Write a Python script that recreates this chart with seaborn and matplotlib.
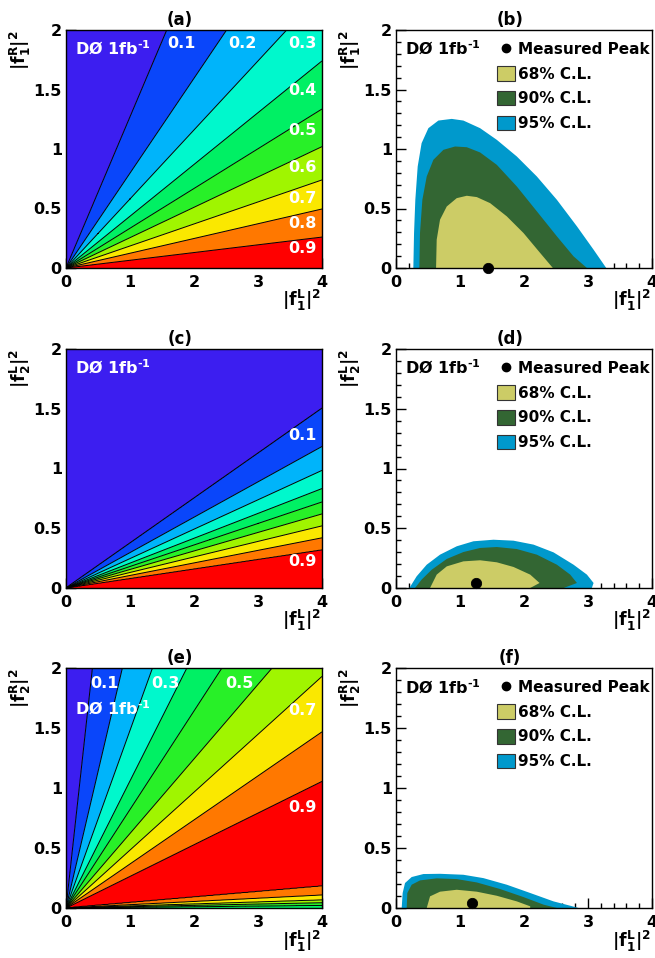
import numpy as np
import matplotlib
matplotlib.use("Agg")
import matplotlib.pyplot as plt
from matplotlib.patches import Patch
from matplotlib.lines import Line2D
from matplotlib.ticker import MultipleLocator, FixedLocator, FixedFormatter
import seaborn as sns
import pandas as pd

sns.set_style("white")
plt.rcParams.update({
    "font.family": ["DejaVu Sans"],
    "font.weight": "bold",
    "mathtext.fontset": "custom",
    "mathtext.rm": "DejaVu Sans:bold",
    "mathtext.it": "DejaVu Sans:bold",
    "mathtext.bf": "DejaVu Sans:bold",
    "mathtext.sf": "DejaVu Sans:bold",
    "mathtext.default": "bf",
    "axes.edgecolor": "black",
    "axes.linewidth": 1.0,
    "text.color": "black",
    "xtick.color": "black",
    "ytick.color": "black",
    "xtick.labelcolor": "black",
    "ytick.labelcolor": "black",
    "axes.labelcolor": "black",
})

# ---------------- data ----------------
panel_tags = ["(a)", "(b)", "(c)", "(d)", "(e)", "(f)"]
y_labels = [r"$|f^{R}_{1}|^{2}$", r"$|f^{R}_{1}|^{2}$",
            r"$|f^{L}_{2}|^{2}$", r"$|f^{L}_{2}|^{2}$",
            r"$|f^{R}_{2}|^{2}$", r"$|f^{R}_{2}|^{2}$"]
x_label = r"$|f^{L}_{1}|^{2}$"
x_ticks = [0, 1, 2, 3, 4]
y_ticks = [0, 0.5, 1, 1.5, 2]
y_tick_labels = ["0", "0.5", "1", "1.5", "2"]
lumi_text = "DØ 1fb$^{\u2010 1}$"

band_edges = [0.0, 0.1, 0.2, 0.3, 0.4, 0.5, 0.6, 0.7, 0.8, 0.9, 1.0]
band_colors = ["#3c1ef0", "#0a46fa", "#00b4fa", "#00f8cc", "#00f064",
               "#28f028", "#a0f500", "#fae800", "#ff7800", "#ff0000"]
line_levels = [0.1, 0.2, 0.3, 0.4, 0.5, 0.6, 0.7, 0.8, 0.9]

# (a) slopes (y/x) of the iso-fraction lines, levels 0.1 ... 0.9
a_slopes = [1.27, 0.797, 0.58, 0.435, 0.334, 0.255, 0.185, 0.124, 0.065]
a_edge_vals = [1.0, 0.0]          # value along x axis, along y axis
# (c)
c_slopes = [0.376, 0.296, 0.246, 0.208, 0.180, 0.155, 0.130, 0.105, 0.080]
c_edge_vals = [1.0, 0.0]
# (e) upper fan (0.1 ... 0.9), peak, lower fan (0.9 ... 0.5)
e_up_slopes = [4.85, 2.27, 1.48, 1.059, 0.821, 0.621, 0.4825, 0.367, 0.264]
e_peak_slope = [0.11]
e_peak_level = [0.95]
e_low_levels = [0.9, 0.8, 0.7, 0.6, 0.5]
e_low_slopes = [0.0458, 0.027, 0.0168, 0.011, 0.0055]
e_edge_vals = [0.45, 0.0]

# labels inside left panels: text, x, y (data)
a_lab_text = ["0.1", "0.2", "0.3", "0.4", "0.5", "0.6", "0.7", "0.8", "0.9"]
a_lab_x = [2.02, 2.98, 3.92, 3.92, 3.92, 3.92, 3.92, 3.92, 3.92]
a_lab_y = [1.85, 1.85, 1.85, 1.455, 1.12, 0.81, 0.545, 0.336, 0.126]
c_lab_text = ["0.1", "0.9"]
c_lab_x = [3.92, 3.92]
c_lab_y = [1.24, 0.18]
e_lab_text = ["0.1", "0.3", "0.5", "0.7", "0.9"]
e_lab_x = [0.82, 1.78, 2.93, 3.92, 3.92]
e_lab_y = [1.83, 1.83, 1.83, 1.607, 0.803]

# confidence regions (boundary points)
cl_names = ["68% C.L.", "90% C.L.", "95% C.L."]
cl_colors = ["#cccc66", "#336633", "#0099cc"]

b95_x = [0.271, 0.282, 0.302, 0.339, 0.40, 0.506, 0.662, 0.871, 1.053, 1.314,
         1.575, 1.888, 2.201, 2.514, 2.827, 3.087, 3.285]
b95_y = [0.0, 0.294, 0.573, 0.853, 1.049, 1.175, 1.239, 1.253, 1.239, 1.175,
         1.077, 0.937, 0.769, 0.573, 0.350, 0.154, 0.0]
b90_x = [0.365, 0.375, 0.412, 0.48, 0.584, 0.741, 0.923, 1.106, 1.314, 1.575,
         1.888, 2.201, 2.514, 2.774, 2.983]
b90_y = [0.0, 0.294, 0.573, 0.769, 0.909, 0.993, 1.021, 1.015, 0.971, 0.867,
         0.685, 0.476, 0.266, 0.098, 0.0]
b68_x = [0.626, 0.636, 0.688, 0.793, 0.949, 1.106, 1.262, 1.471, 1.731, 1.992,
         2.253, 2.451]
b68_y = [0.0, 0.238, 0.406, 0.517, 0.587, 0.607, 0.596, 0.545, 0.434, 0.294,
         0.126, 0.0]
b_peak = ([1.434], [0.0])

d95_x = [0.209, 0.323, 0.48, 0.688, 0.949, 1.21, 1.523, 1.836, 2.149, 2.462,
         2.774, 2.983, 3.087, 3.06]
d95_y = [0.0, 0.098, 0.195, 0.279, 0.349, 0.391, 0.404, 0.396, 0.363, 0.298,
         0.195, 0.112, 0.042, 0.0]
d90_x = [0.297, 0.40, 0.558, 0.793, 1.053, 1.314, 1.575, 1.888, 2.201, 2.514,
         2.722, 2.827, 2.62]
d90_y = [0.0, 0.07, 0.153, 0.243, 0.301, 0.335, 0.343, 0.326, 0.279, 0.195,
         0.112, 0.042, 0.0]
d68_x = [0.532, 0.636, 0.793, 1.053, 1.314, 1.575, 1.836, 2.097, 2.243, 2.097]
d68_y = [0.0, 0.112, 0.181, 0.223, 0.232, 0.215, 0.176, 0.112, 0.042, 0.0]
d_peak = ([1.252], [0.042])

f95_x = [0.089, 0.104, 0.141, 0.245, 0.428, 0.688, 1.053, 1.366, 1.731, 2.097,
         2.462, 2.722, 2.853]
f95_y = [0.0, 0.125, 0.208, 0.258, 0.283, 0.285, 0.277, 0.249, 0.194, 0.125,
         0.055, 0.019, 0.0]
f90_x = [0.167, 0.177, 0.245, 0.376, 0.636, 0.949, 1.262, 1.627, 1.992, 2.305,
         2.514]
f90_y = [0.0, 0.125, 0.194, 0.230, 0.247, 0.241, 0.213, 0.158, 0.091, 0.028,
         0.0]
f68_x = [0.48, 0.532, 0.688, 0.949, 1.262, 1.575, 1.888, 2.097, 2.097]
f68_y = [0.0, 0.097, 0.136, 0.152, 0.136, 0.102, 0.055, 0.014, 0.0]
f_peak = ([1.184], [0.042])

# ---------------- helpers ----------------
xg = np.linspace(0, 4, 801)
yg = np.linspace(0, 2, 401)
X, Y = np.meshgrid(xg, yg)
ANG = np.arctan2(Y, X)


def fan_field(slopes, levels, edge_vals):
    a = np.arctan(np.asarray(slopes, float))
    v = np.asarray(levels, float)
    o = np.argsort(a)
    knots = np.concatenate([[0.0], a[o], [np.pi / 2]])
    vals = np.concatenate([[edge_vals[0]], v[o], [edge_vals[1]]])
    return np.interp(ANG, knots, vals)


def style_axes(ax, tag, ylab):
    ax.set_xlim(0, 4)
    ax.set_ylim(0, 2)
    ax.xaxis.set_major_locator(FixedLocator(x_ticks))
    ax.xaxis.set_major_formatter(FixedFormatter([str(t) for t in x_ticks]))
    ax.xaxis.set_minor_locator(MultipleLocator(0.2))
    ax.yaxis.set_major_locator(FixedLocator(y_ticks))
    ax.yaxis.set_major_formatter(FixedFormatter(y_tick_labels))
    ax.yaxis.set_minor_locator(MultipleLocator(0.1))
    ax.tick_params(which="both", direction="in", top=False, right=False,
                   bottom=True, left=True, color="black", width=1.0)
    ax.tick_params(which="major", length=7, labelsize=11.5,
                   labelcolor="black")
    ax.tick_params(which="minor", length=3.5)
    ax.tick_params(axis="x", which="major", pad=5)
    ax.tick_params(axis="y", which="major", pad=3)
    for lab in ax.get_xticklabels() + ax.get_yticklabels():
        lab.set_fontweight("bold")
    ax.set_xlabel("")
    ax.set_ylabel("")
    ax.text(0.445, 1.004, tag, transform=ax.transAxes, ha="center",
            va="bottom", fontsize=12, fontweight="bold", color="black")
    ax.text(-0.128, 1.0, ylab, transform=ax.transAxes, rotation=90,
            ha="right", va="top", fontsize=12.5, color="black")
    ax.text(0.995, -0.085, x_label, transform=ax.transAxes, ha="right",
            va="top", fontsize=12.5, color="black")
    for s in ax.spines.values():
        s.set_visible(True)
        s.set_color("black")
        s.set_linewidth(1.0)
        s.set_zorder(10)


def fan_panel(ax, field, lab_text, lab_x, lab_y, lumi_xy):
    ax.contourf(X, Y, field, levels=band_edges, colors=band_colors,
                antialiased=True)
    ax.contour(X, Y, field, levels=line_levels, colors="black",
               linewidths=0.7)
    for t, x, y in zip(lab_text, lab_x, lab_y):
        ax.text(x, y, t, color="white", ha="right", va="baseline",
                fontsize=11.5, fontweight="bold")
    ax.text(lumi_xy[0], lumi_xy[1], lumi_text, transform=ax.transAxes,
            color="white", ha="left", va="baseline", fontsize=11.5,
            fontweight="bold")


def cl_panel(ax, regions, peak):
    for (rx, ry), col in zip(regions[::-1], cl_colors[::-1]):
        ax.fill(rx, ry, color=col, lw=0, zorder=2)
    dfp = pd.DataFrame({"x": peak[0], "y": peak[1]})
    sns.scatterplot(data=dfp, x="x", y="y", ax=ax, color="black", s=55,
                    edgecolor="black", zorder=5, clip_on=False, legend=False)
    ax.text(0.035, 0.895, lumi_text, transform=ax.transAxes, color="black",
            ha="left", va="baseline", fontsize=11.5, fontweight="bold")
    handles = [Line2D([], [], marker="o", color="black", linestyle="none",
                      markersize=6)]
    labels = ["Measured Peak"]
    for name, col in zip(cl_names, cl_colors):
        handles.append(Patch(facecolor=col, edgecolor="#333333", lw=0.8))
        labels.append(name)
    leg = ax.legend(handles, labels, loc="upper left",
                    bbox_to_anchor=(0.395, 0.952),
                    frameon=False, handlelength=1.15,
                    handleheight=1.1, handletextpad=0.2, labelspacing=0.6,
                    borderpad=0.0, borderaxespad=0.0,
                    prop={"weight": "bold", "size": 11})
    for t in leg.get_texts():
        t.set_color("black")


# ---------------- figure ----------------
fig = plt.figure(figsize=(6.55, 9.58), dpi=100)
W = 256 / 655
lefts = [66 / 655, 396 / 655]
rows = [(1 - 268 / 958, 238 / 958), (1 - 588 / 958, 239 / 958),
        (1 - 908 / 958, 240 / 958)]
axs = []
for r in range(3):
    for c in range(2):
        axs.append(fig.add_axes([lefts[c], rows[r][0], W, rows[r][1]]))

# (a)
fa = fan_field(a_slopes, line_levels, a_edge_vals)
fan_panel(axs[0], fa, a_lab_text, a_lab_x, a_lab_y, (0.035, 0.895))
# (c)
fc = fan_field(c_slopes, line_levels, c_edge_vals)
fan_panel(axs[2], fc, c_lab_text, c_lab_x, c_lab_y, (0.035, 0.895))
# (e)
fe = fan_field(e_up_slopes + e_peak_slope + e_low_slopes,
               line_levels + e_peak_level + e_low_levels, e_edge_vals)
fan_panel(axs[4], fe, e_lab_text, e_lab_x, e_lab_y, (0.035, 0.805))

cl_panel(axs[1], [(b68_x, b68_y), (b90_x, b90_y), (b95_x, b95_y)], b_peak)
cl_panel(axs[3], [(d68_x, d68_y), (d90_x, d90_y), (d95_x, d95_y)], d_peak)
cl_panel(axs[5], [(f68_x, f68_y), (f90_x, f90_y), (f95_x, f95_y)], f_peak)

for ax, tag, yl in zip(axs, panel_tags, y_labels):
    style_axes(ax, tag, yl)

fig.savefig("out.png", dpi=100, facecolor="white")
